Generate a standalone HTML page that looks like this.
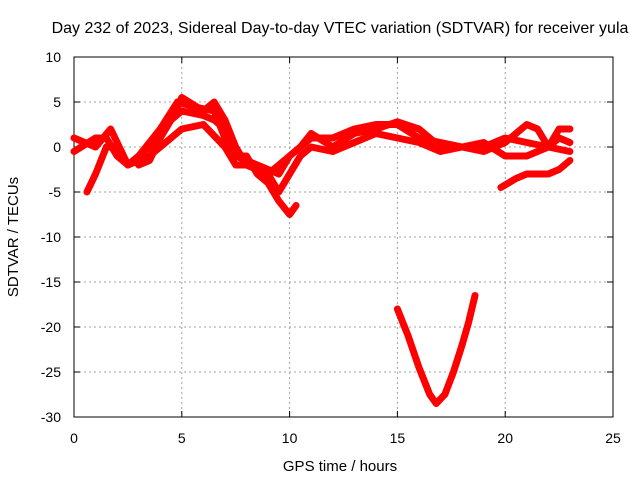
<!DOCTYPE html>
<html><head><meta charset="utf-8"><style>
body{margin:0;background:#fff}
svg{display:block;font-family:"Liberation Sans",sans-serif}
</style></head><body>
<svg id="chart" width="640" height="480" viewBox="0 0 640 480" xmlns="http://www.w3.org/2000/svg">
<rect width="640" height="480" fill="#fff"/>
<text x="340" y="33" text-anchor="middle" font-size="16">Day 232 of 2023, Sidereal Day-to-day VTEC variation (SDTVAR) for receiver yula</text>
<g id="grid"></g>
<g id="axes"></g>
<g id="series"></g>
<text x="340" y="471" text-anchor="middle" font-size="15">GPS time / hours</text>
<text transform="translate(18,237) rotate(-90)" text-anchor="middle" font-size="15">SDTVAR / TECUs</text>
</svg>
<script>
const xTicks=[0,5,10,15,20,25];
const yTicks=[10,5,0,-5,-10,-15,-20,-25,-30];
const trackA=[[0,1],[1,0],[1.7,2],[2.5,-2],[3,-1],[4,2],[4.8,5],[5.5,4.5],[6.5,4],[7,1],[7.5,-1],[8.5,-2],[9.5,-3],[10,-1],[11,1],[12,1],[13,2],[14,2.5],[15,2.5],[16,1],[17,0.5],[18,0],[19,0],[20,1],[21,0.5],[22,0],[23,-0.5]];
const trackB=[[0.6,-5],[1,-3],[1.5,0],[2,0],[2.5,-2],[3.5,0],[4.5,3],[5,5.5],[6,4],[6.5,5],[7,3],[7.5,0],[8,-2],[9,-3],[10,-1],[10.5,0],[11,1.5],[12,0],[13,1.5],[14,2],[15,2.8],[16,2],[17,0],[18,0],[19,-0.5],[20,0.5],[21,2.5],[21.5,2],[22,0],[22.5,2],[23,2]];
const trackC=[[0,-0.5],[1,1],[1.5,1],[2,-1],[2.5,-2],[3.5,-1],[4.5,1],[5,2],[6,2.5],[7,0],[7.5,-2],[8,-2],[9,-3],[9.5,-5],[10,-3],[10.5,-1],[11,0],[12,-0.5],[13,0.5],[14,1.5],[15,1],[16,0.5],[17,-0.5],[18,0],[19,0.5],[20,-1],[21,-1],[22,0],[22.5,1],[23,0.5]];
const trackD=[[3,-2],[3.5,-1.5],[4,1],[4.5,3],[5,4],[6,3.5],[6.5,3],[7,2],[7.5,-1],[8,-1],[8.5,-3],[9,-4],[9.5,-6],[10,-7.5],[10.3,-6.5]];
const trackE=[[19.8,-4.5],[20.5,-3.5],[21,-3],[22,-3],[22.5,-2.5],[23,-1.5]];
const trackF=[[15,-18],[15.5,-21],[16,-24.5],[16.5,-27.5],[16.8,-28.5],[17.2,-27.5],[17.6,-25],[18,-22],[18.3,-19.5],[18.6,-16.5]];
const tracks=[trackA,trackB,trackC,trackD,trackE,trackF];
const X0=74,X1=613,Y0=57,Y1=417;
const sx=v=>X0+(v-0)/(25-0)*(X1-X0);
const sy=v=>Y0+(10-v)/(10+30)*(Y1-Y0);
const NS="http://www.w3.org/2000/svg";
const mk=(t,a,p)=>{const e=document.createElementNS(NS,t);for(const k in a)e.setAttribute(k,a[k]);p.appendChild(e);return e;};
const grid=document.getElementById('grid'),axes=document.getElementById('axes'),ser=document.getElementById('series');
xTicks.forEach(t=>{
  if(t>0&&t<25){const l=mk('line',{x1:sx(t),x2:sx(t),y1:Y0,y2:Y1,stroke:'#a0a0a0','stroke-dasharray':'2,3'},grid);
  
  }
  const tx=mk('text',{x:sx(t),y:Y1+26,'text-anchor':'middle','font-size':'14'},axes);tx.textContent=t;
  
  
  mk('line',{x1:sx(t),x2:sx(t),y1:Y1,y2:Y1-6,stroke:'#000'},axes);
  mk('line',{x1:sx(t),x2:sx(t),y1:Y0,y2:Y0+6,stroke:'#000'},axes);
});
yTicks.forEach(t=>{
  if(t<10&&t>-30){const l=mk('line',{x1:X0,x2:X1,y1:sy(t),y2:sy(t),stroke:'#a0a0a0','stroke-dasharray':'2,3'},grid);
  
  }
  const tx=mk('text',{x:X0-13,y:sy(t)+5,'text-anchor':'end','font-size':'14'},axes);tx.textContent=t;
  
  
  mk('line',{x1:X0,x2:X0+6,y1:sy(t),y2:sy(t),stroke:'#000'},axes);
  mk('line',{x1:X1,x2:X1-6,y1:sy(t),y2:sy(t),stroke:'#000'},axes);
});
const fr=mk('rect',{x:X0,y:Y0,width:X1-X0,height:Y1-Y0,fill:'none',stroke:'#000'},axes);


tracks.forEach(tr=>{
  const p=mk('polyline',{points:tr.map(d=>sx(d[0])+','+sy(d[1])).join(' '),fill:'none',stroke:'#f00','stroke-width':'7','stroke-linejoin':'round','stroke-linecap':'round'},ser);
  
  
});
</script>
</body></html>
